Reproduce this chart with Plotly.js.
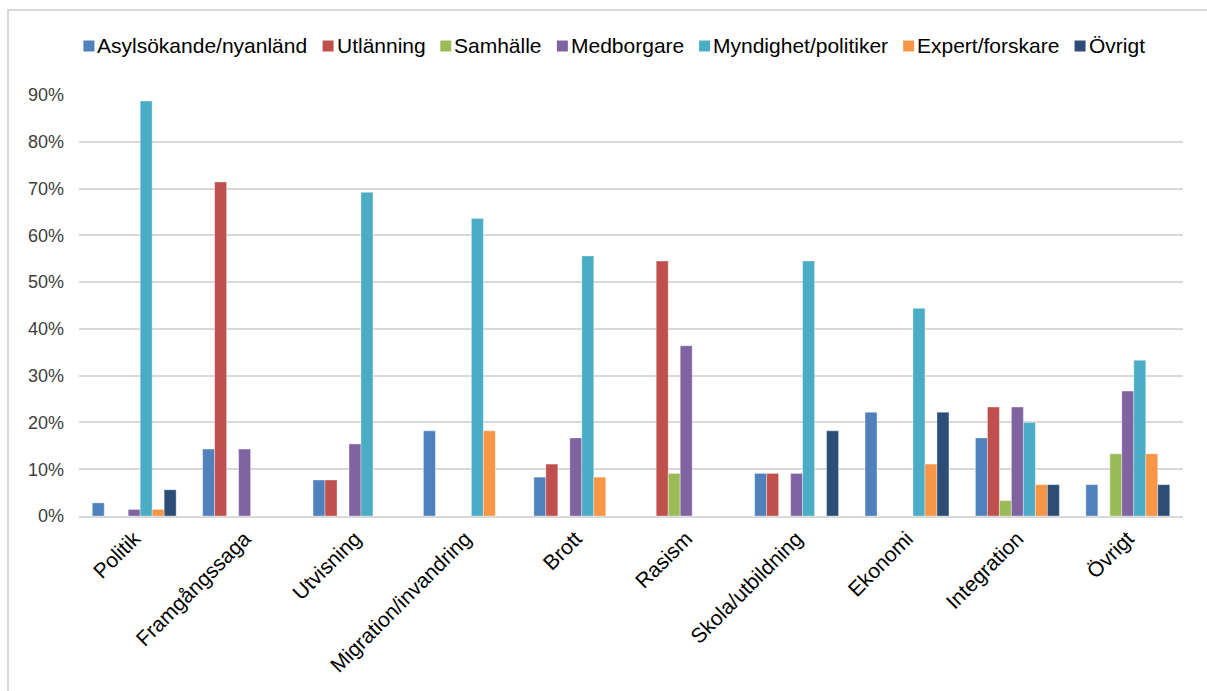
<!DOCTYPE html>
<html>
<head>
<meta charset="utf-8">
<script src="https://cdn.plot.ly/plotly-3.0.1.min.js"></script>
<style>
  html, body { margin: 0; padding: 0; background: #fff; }
  #chart { width: 1207px; height: 691px; }
</style>
</head>
<body>
<div id="chart"></div>
<script>
const categories = ["Politik", "Framgångssaga", "Utvisning", "Migration/invandring", "Brott", "Rasism", "Skola/utbildning", "Ekonomi", "Integration", "Övrigt"];

const seriesNames = ["Asylsökande/nyanländ", "Utlänning", "Samhälle", "Medborgare", "Myndighet/politiker", "Expert/forskare", "Övrigt"];

const asylsokande = [2.8, 14.3, 7.7, 18.2, 8.3, 0, 9.1, 22.2, 16.7, 6.7];
const utlanning   = [0, 71.4, 7.7, 0, 11.1, 54.5, 9.1, 0, 23.3, 0];
const samhalle    = [0, 0, 0, 0, 0, 9.1, 0, 0, 3.3, 13.3];
const medborgare  = [1.4, 14.3, 15.4, 0, 16.7, 36.4, 9.1, 0, 23.3, 26.7];
const myndighet   = [88.7, 0, 69.2, 63.6, 55.6, 0, 54.5, 44.4, 20.0, 33.3];
const expert      = [1.4, 0, 0, 18.2, 8.3, 0, 0, 11.1, 6.7, 13.3];
const ovrigt      = [5.6, 0, 0, 0, 0, 0, 18.2, 22.2, 6.7, 6.7];

const yTickValues = [0, 10, 20, 30, 40, 50, 60, 70, 80, 90];
const yTickLabels = ["0%", "10%", "20%", "30%", "40%", "50%", "60%", "70%", "80%", "90%"];

const colors = ["#4f81bd", "#c0504d", "#9bbb59", "#8064a2", "#4bacc6", "#f79646", "#2c4d75"];
const allSeries = [asylsokande, utlanning, samhalle, medborgare, myndighet, expert, ovrigt];

const traces = allSeries.map((vals, i) => ({
  type: "bar",
  name: seriesNames[i],
  x: categories,
  y: vals,
  showlegend: false,
  marker: { color: colors[i], line: { color: "rgba(255,255,255,0.6)", width: 0.6 } },
  hovertemplate: "%{x}: %{y:.1f}%<extra>" + seriesNames[i] + "</extra>"
}));

// plot area in pixels: x 79..1183, y 95..516
const L = 79, R = 1183, T = 95, B = 516;
const px = v => (v - L) / (R - L);
const py = v => (B - v) / (B - T);

// custom one-row legend (Excel style: small square, tight spacing)
const legendFontSize = 21;
const legendFont = "Liberation Sans, Arial, sans-serif";
const ctx = document.createElement("canvas").getContext("2d");
ctx.font = legendFontSize + "px 'Liberation Sans', Arial, sans-serif";
const legendY = 45, sym = 11, symGap = 3, itemGap = 15;
const widths = seriesNames.map(n => ctx.measureText(n).width);
const totalW = widths.reduce((a, w) => a + sym + symGap + w, 0) + itemGap * (seriesNames.length - 1);
let cursor = 614 - totalW / 2;
const legendShapes = [], legendAnnots = [];
seriesNames.forEach((n, i) => {
  legendShapes.push({
    type: "rect", xref: "paper", yref: "paper",
    x0: px(cursor), x1: px(cursor + sym),
    y0: py(legendY + sym / 2 + 1), y1: py(legendY - sym / 2 + 1),
    fillcolor: colors[i], line: { width: 0 }
  });
  legendAnnots.push({
    xref: "paper", yref: "paper",
    x: px(cursor + sym + symGap - 1), xanchor: "left",
    y: py(legendY), yanchor: "middle",
    text: n, showarrow: false, borderpad: 0,
    font: { family: legendFont, size: legendFontSize, color: "#000" }
  });
  cursor += sym + symGap + widths[i] + itemGap;
});

const layout = {
  width: 1207,
  height: 691,
  margin: { l: L, r: 1207 - R, t: T, b: 691 - B, pad: 0 },
  paper_bgcolor: "#ffffff",
  plot_bgcolor: "#ffffff",
  font: { family: "Liberation Sans, Arial, sans-serif", size: 17, color: "#000" },
  barmode: "group",
  bargap: 0.24,
  bargroupgap: 0,
  showlegend: false,
  xaxis: {
    type: "category",
    tickangle: -45,
    tickfont: { size: 21, color: "#000" },
    showgrid: false,
    showline: true,
    linecolor: "#d9d9d9",
    linewidth: 2,
    ticks: "",
    fixedrange: true
  },
  yaxis: {
    range: [0, 90],
    tickvals: yTickValues,
    ticktext: yTickLabels,
    tickfont: { size: 18, color: "#404040" },
    showgrid: true,
    gridcolor: "#d9d9d9",
    gridwidth: 1.5,
    zeroline: false,
    showline: false,
    ticks: "",
    ticklabelstandoff: 14,
    fixedrange: true
  },
  annotations: legendAnnots,
  shapes: [{
    type: "rect", xref: "paper", yref: "paper",
    x0: px(8), x1: px(1230), y0: py(720), y1: py(10),
    line: { color: "#d9d9d9", width: 2 },
    fillcolor: "rgba(0,0,0,0)",
    layer: "below"
  }].concat(legendShapes)
};

Plotly.newPlot("chart", traces, layout, { displayModeBar: false, staticPlot: false });
</script>
</body>
</html>
